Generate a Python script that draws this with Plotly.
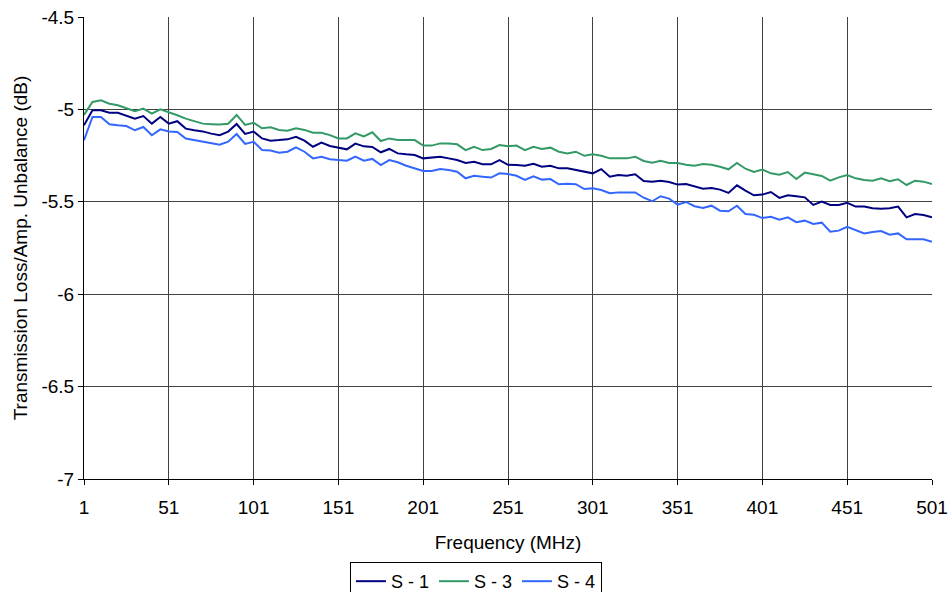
import plotly.graph_objects as go

freq = list(range(1, 502, 5))

s1 = [-5.086, -5.005, -5.005, -5.018, -5.018, -5.032, -5.050, -5.036, -5.077, -5.041,
      -5.077, -5.064, -5.104, -5.113, -5.119, -5.131, -5.140, -5.120, -5.079, -5.133,
      -5.120, -5.157, -5.169, -5.166, -5.162, -5.148, -5.169, -5.202, -5.180, -5.198,
      -5.205, -5.216, -5.185, -5.200, -5.203, -5.232, -5.214, -5.238, -5.243, -5.247,
      -5.265, -5.259, -5.256, -5.265, -5.274, -5.290, -5.283, -5.297, -5.297, -5.274,
      -5.300, -5.301, -5.305, -5.294, -5.310, -5.305, -5.319, -5.319, -5.328, -5.333,
      -5.346, -5.323, -5.364, -5.355, -5.359, -5.351, -5.387, -5.392, -5.386, -5.393,
      -5.407, -5.404, -5.416, -5.429, -5.425, -5.434, -5.452, -5.411, -5.440, -5.465,
      -5.461, -5.447, -5.479, -5.465, -5.470, -5.476, -5.517, -5.499, -5.517, -5.517,
      -5.505, -5.526, -5.526, -5.535, -5.537, -5.535, -5.526, -5.584, -5.566, -5.571,
      -5.584]

s3 = [-5.030, -4.960, -4.951, -4.969, -4.978, -4.992, -5.010, -4.996, -5.023, -5.000,
      -5.014, -5.032, -5.050, -5.064, -5.077, -5.080, -5.082, -5.078, -5.030, -5.084,
      -5.072, -5.102, -5.097, -5.111, -5.115, -5.102, -5.111, -5.126, -5.126, -5.139,
      -5.157, -5.157, -5.130, -5.146, -5.124, -5.171, -5.157, -5.166, -5.166, -5.166,
      -5.196, -5.196, -5.184, -5.184, -5.189, -5.220, -5.202, -5.220, -5.214, -5.193,
      -5.200, -5.196, -5.221, -5.202, -5.214, -5.207, -5.229, -5.238, -5.229, -5.251,
      -5.243, -5.251, -5.265, -5.265, -5.265, -5.256, -5.279, -5.288, -5.278, -5.290,
      -5.290, -5.299, -5.305, -5.295, -5.299, -5.310, -5.324, -5.290, -5.321, -5.339,
      -5.326, -5.346, -5.353, -5.339, -5.377, -5.342, -5.350, -5.360, -5.386, -5.368,
      -5.355, -5.373, -5.382, -5.386, -5.373, -5.389, -5.378, -5.409, -5.386, -5.391,
      -5.404]

s4 = [-5.167, -5.041, -5.041, -5.080, -5.086, -5.090, -5.113, -5.095, -5.140, -5.108,
      -5.119, -5.122, -5.158, -5.167, -5.173, -5.185, -5.191, -5.175, -5.133, -5.187,
      -5.175, -5.220, -5.223, -5.234, -5.229, -5.205, -5.229, -5.265, -5.256, -5.270,
      -5.274, -5.278, -5.256, -5.278, -5.268, -5.301, -5.274, -5.286, -5.305, -5.319,
      -5.333, -5.333, -5.323, -5.328, -5.337, -5.373, -5.359, -5.364, -5.369, -5.346,
      -5.350, -5.359, -5.382, -5.362, -5.380, -5.377, -5.405, -5.402, -5.405, -5.431,
      -5.427, -5.436, -5.454, -5.449, -5.449, -5.449, -5.478, -5.497, -5.470, -5.483,
      -5.515, -5.501, -5.524, -5.534, -5.521, -5.548, -5.551, -5.521, -5.566, -5.570,
      -5.588, -5.581, -5.597, -5.584, -5.610, -5.602, -5.620, -5.613, -5.662, -5.656,
      -5.635, -5.653, -5.671, -5.663, -5.658, -5.678, -5.671, -5.703, -5.703, -5.703,
      -5.716]

assert len(s1) == len(freq) and len(s3) == len(freq) and len(s4) == len(freq)

series_names = ["S - 1", "S - 3", "S - 4"]
series_colors = ["#000080", "#339966", "#3366FF"]

x_ticks = list(range(1, 502, 50))
y_ticks = [-7, -6.5, -6, -5.5, -5, -4.5]
y_tick_text = ["-7", "-6.5", "-6", "-5.5", "-5", "-4.5"]

fig = go.Figure()
for name, vals, col in zip(series_names, [s1, s3, s4], series_colors):
    fig.add_trace(go.Scatter(x=freq, y=vals, mode="lines", name=name,
                             line=dict(color=col, width=2)))

font = dict(family="Liberation Sans, Arial, sans-serif", size=19, color="black")
fig.update_layout(
    width=950, height=592,
    margin=dict(l=84, r=18, t=17, b=113, autoexpand=False),
    paper_bgcolor="white", plot_bgcolor="white",
    font=font,
    showlegend=True,
    legend=dict(orientation="h", xref="container", yref="container",
                x=0.501, xanchor="center", y=0.0507, yanchor="top",
                bordercolor="black", borderwidth=1, bgcolor="white",
                font=dict(size=18), itemwidth=30, tracegroupgap=0),
    xaxis=dict(range=[1, 501], tickvals=x_ticks, showgrid=True, gridcolor="#404040",
               gridwidth=1, showline=True, linecolor="black", linewidth=1,
               ticks="outside", ticklen=5, tickcolor="black", zeroline=False,
               automargin=False, tickfont=dict(size=19), ticklabeloverflow="allow",
               ticklabelstandoff=6,
               title=dict(text="Frequency (MHz)", standoff=18, font=dict(size=19))),
    yaxis=dict(range=[-7, -4.5], tickvals=y_ticks, ticktext=y_tick_text,
               showgrid=True, gridcolor="#404040", gridwidth=1,
               showline=True, linecolor="black", linewidth=1,
               ticks="outside", ticklen=5, tickcolor="black", zeroline=False,
               automargin=False, tickfont=dict(size=19), ticklabeloverflow="allow",
               title=dict(text="Transmission Loss/Amp. Unbalance (dB)", standoff=8,
                          font=dict(size=19))),
)

fig.write_html("out.html",
               config={"displayModeBar": False},
               post_script="document.body.style.margin='0px';"
                           "document.body.style.overflow='hidden';")
